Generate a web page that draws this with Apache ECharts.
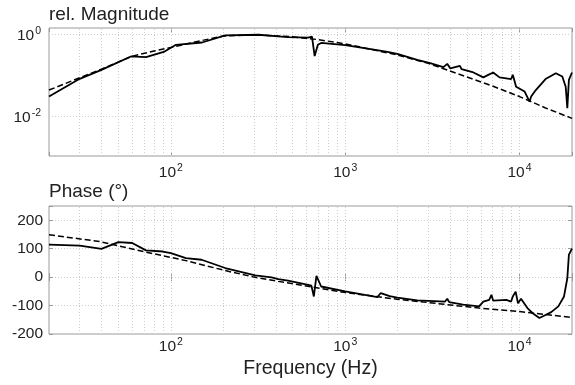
<!DOCTYPE html>
<html><head><meta charset="utf-8">
<script src="https://cdn.jsdelivr.net/npm/echarts@6/dist/echarts.min.js"></script>
<style>html,body{margin:0;padding:0;background:#fff}#c{width:575px;height:385px}</style>
</head><body><div id="c"></div>
<script>
// ---- data ----
const magFreq = [20,30,40,59,72,92,107,151,205,318,413,470,613,645,668,697,728,1000,1400,1750,1990,2590,3070,3660,3850,4010,4550,4650,5440,6200,6620,7060,7680,8950,9150,9560,10700,11420,11660,12400,14100,16150,17600,18400,18800,19200,20000];
const magMeasured = [0.031,0.084,0.139,0.295,0.284,0.389,0.569,0.646,0.962,1.0,0.912,0.871,0.851,0.902,0.302,0.569,0.631,0.56,0.447,0.38,0.343,0.245,0.204,0.162,0.195,0.151,0.174,0.145,0.120,0.091,0.105,0.120,0.091,0.083,0.105,0.054,0.041,0.0234,0.031,0.0447,0.083,0.115,0.0955,0.054,0.0162,0.079,0.12];
const magModelFreq = [20,30,40,60,80,100,150,200,300,500,700,1000,2000,3000,5000,7000,10000,14000,20000];
const magModel = [0.0447,0.089,0.145,0.30,0.40,0.49,0.72,0.93,1.0,0.89,0.76,0.60,0.32,0.20,0.093,0.056,0.031,0.0166,0.0091];

const phaseFreq = [20,30,40,50,60,72,90,100,122,150,205,305,378,413,470,613,640,661,684,728,1000,1530,1600,1800,1990,2590,3740,3850,3950,4750,5860,6200,6700,6900,7060,8400,8950,9150,9500,9800,10200,11100,11900,13000,14100,15200,16700,18000,18800,19200,20000];
const phaseMeasured = [114,111,99,123,120,94,90,84,67,61,32,6,-1,-7,-12,-27,-30,-68,4,-33,-50,-70,-56,-67,-72,-82,-86,-76,-88,-97,-103,-86,-80,-62,-83,-80,-86,-68,-51,-92,-76,-109,-127,-144,-133,-123,-103,-68,-4,79,100];
const phaseModelFreq = [20,39,72,122,205,300,413,1000,1990,2950,5860,10000,20000];
const phaseModel = [149,125,88,58,23,0,-15,-54,-78,-89,-109,-121,-142];

const xMajorTicks = [100,1000,10000];
const xGridLines = [30,40,50,60,70,80,90,100,200,300,400,500,600,700,800,900,1000,2000,3000,4000,5000,6000,7000,8000,9000,10000];
const magTickValues = [1,0.01];
const magTickLabels = ['0','-2'];
const phaseTicks = [-200,-100,0,100,200];

// ---- chart ----
const FONT = "'Liberation Sans', Arial, sans-serif";
const TXT = '#222';
const AX = '#9a9a9a';
const GRIDC = '#cfcfcf';
const pairs = (xs, ys) => xs.map((x, i) => [x, ys[i]]);
const rich = {
  b: {fontSize: 15.5, fontFamily: FONT, color: TXT, lineHeight: 18, verticalAlign: 'bottom'},
  s: {fontSize: 10.5, fontFamily: FONT, color: TXT, lineHeight: 18, verticalAlign: 'top', padding: [0, 0, 0, 1]}
};
function isPow(v, list) {
  return list.findIndex(t => Math.abs(Math.log10(v) - Math.log10(t)) < 1e-6);
}
const xLabel = v => {
  const i = isPow(v, xMajorTicks);
  return i < 0 ? '' : '{b|10}{s|' + Math.round(Math.log10(v)) + '}';
};
const gridMark = (vals, hvals) => ({
  silent: true, symbol: 'none', z: 1, animation: false,
  label: {show: false},
  lineStyle: {color: GRIDC, type: [1, 2], width: 1},
  data: vals.map(v => ({xAxis: v})).concat(hvals.map(v => ({yAxis: v})))
});

const tickStyle = {inside: true, length: 4, lineStyle: {color: AX}};
const baseX = (gi, pos, labels, margin) => ({
  type: 'log', logBase: 10, gridIndex: gi, position: pos, min: 20, max: 20000,
  axisLine: {show: false}, axisTick: tickStyle, splitLine: {show: false},
  axisLabel: labels ? {show: true, formatter: xLabel, rich: rich, margin: margin, hideOverlap: false} : {show: false}
});

const option = {
  animation: false,
  backgroundColor: '#fff',
  textStyle: {fontFamily: FONT},
  title: [
    {text: 'rel. Magnitude', left: 49, top: 5, padding: 0, textStyle: {fontSize: 19, fontWeight: 'normal', color: TXT, fontFamily: FONT}},
    {text: 'Phase (°)', left: 49, top: 182, padding: 0, textStyle: {fontSize: 19, fontWeight: 'normal', color: TXT, fontFamily: FONT}}
  ],
  grid: [
    {left: 49, width: 527, top: 28, height: 128, show: true, borderColor: AX, borderWidth: 1, backgroundColor: 'transparent'},
    {left: 49, width: 527, top: 206, height: 128, show: true, borderColor: AX, borderWidth: 1, backgroundColor: 'transparent'}
  ],
  xAxis: [
    baseX(0, 'bottom', true, 7),
    baseX(0, 'top', false),
    Object.assign(baseX(1, 'bottom', true, 3), {
      name: 'Frequency (Hz)', nameLocation: 'middle', nameGap: 25,
      nameTextStyle: {fontSize: 19.5, color: TXT, fontFamily: FONT}
    }),
    baseX(1, 'top', false)
  ],
  yAxis: [
    {type: 'log', logBase: 10, gridIndex: 0, min: 0.0011, max: 1.46,
     axisLine: {show: false}, axisTick: {show: false}, splitLine: {show: false},
     axisLabel: {margin: 8, rich: rich, formatter: v => {
       const i = isPow(v, magTickValues);
       return i < 0 ? '' : '{b|10}{s|' + magTickLabels[i] + '}';
     }}},
    {type: 'value', gridIndex: 1, min: -200, max: 250, interval: 100,
     axisLine: {show: false}, axisTick: tickStyle,
     splitLine: {show: true, lineStyle: {color: GRIDC, type: [1, 2]}},
     axisLabel: {margin: 6, fontSize: 15.5, color: TXT, fontFamily: FONT,
       formatter: v => phaseTicks.indexOf(v) >= 0 ? String(v) : ''}},
    {type: 'value', gridIndex: 1, position: 'right', min: -200, max: 250, interval: 100,
     axisLine: {show: false}, axisTick: tickStyle, splitLine: {show: false}, axisLabel: {show: false}}
  ],
  series: [
    {type: 'line', xAxisIndex: 0, yAxisIndex: 0, data: pairs(magModelFreq, magModel), showSymbol: false,
     lineStyle: {color: '#000', width: 1.5, type: [6, 3]}, z: 2,
     markLine: gridMark(xGridLines, magTickValues)},
    {type: 'line', xAxisIndex: 0, yAxisIndex: 0, data: pairs(magFreq, magMeasured), showSymbol: false,
     lineStyle: {color: '#000', width: 1.8}, z: 3},
    {type: 'line', xAxisIndex: 2, yAxisIndex: 1, data: pairs(phaseModelFreq, phaseModel), showSymbol: false,
     lineStyle: {color: '#000', width: 1.5, type: [6, 3]}, z: 2,
     markLine: gridMark(xGridLines, [])},
    {type: 'line', xAxisIndex: 2, yAxisIndex: 1, data: pairs(phaseFreq, phaseMeasured), showSymbol: false,
     lineStyle: {color: '#000', width: 1.8}, z: 3}
  ]
};
const chart = echarts.init(document.getElementById('c'), null, {renderer: 'canvas'});
chart.setOption(option);
</script>
</body></html>
